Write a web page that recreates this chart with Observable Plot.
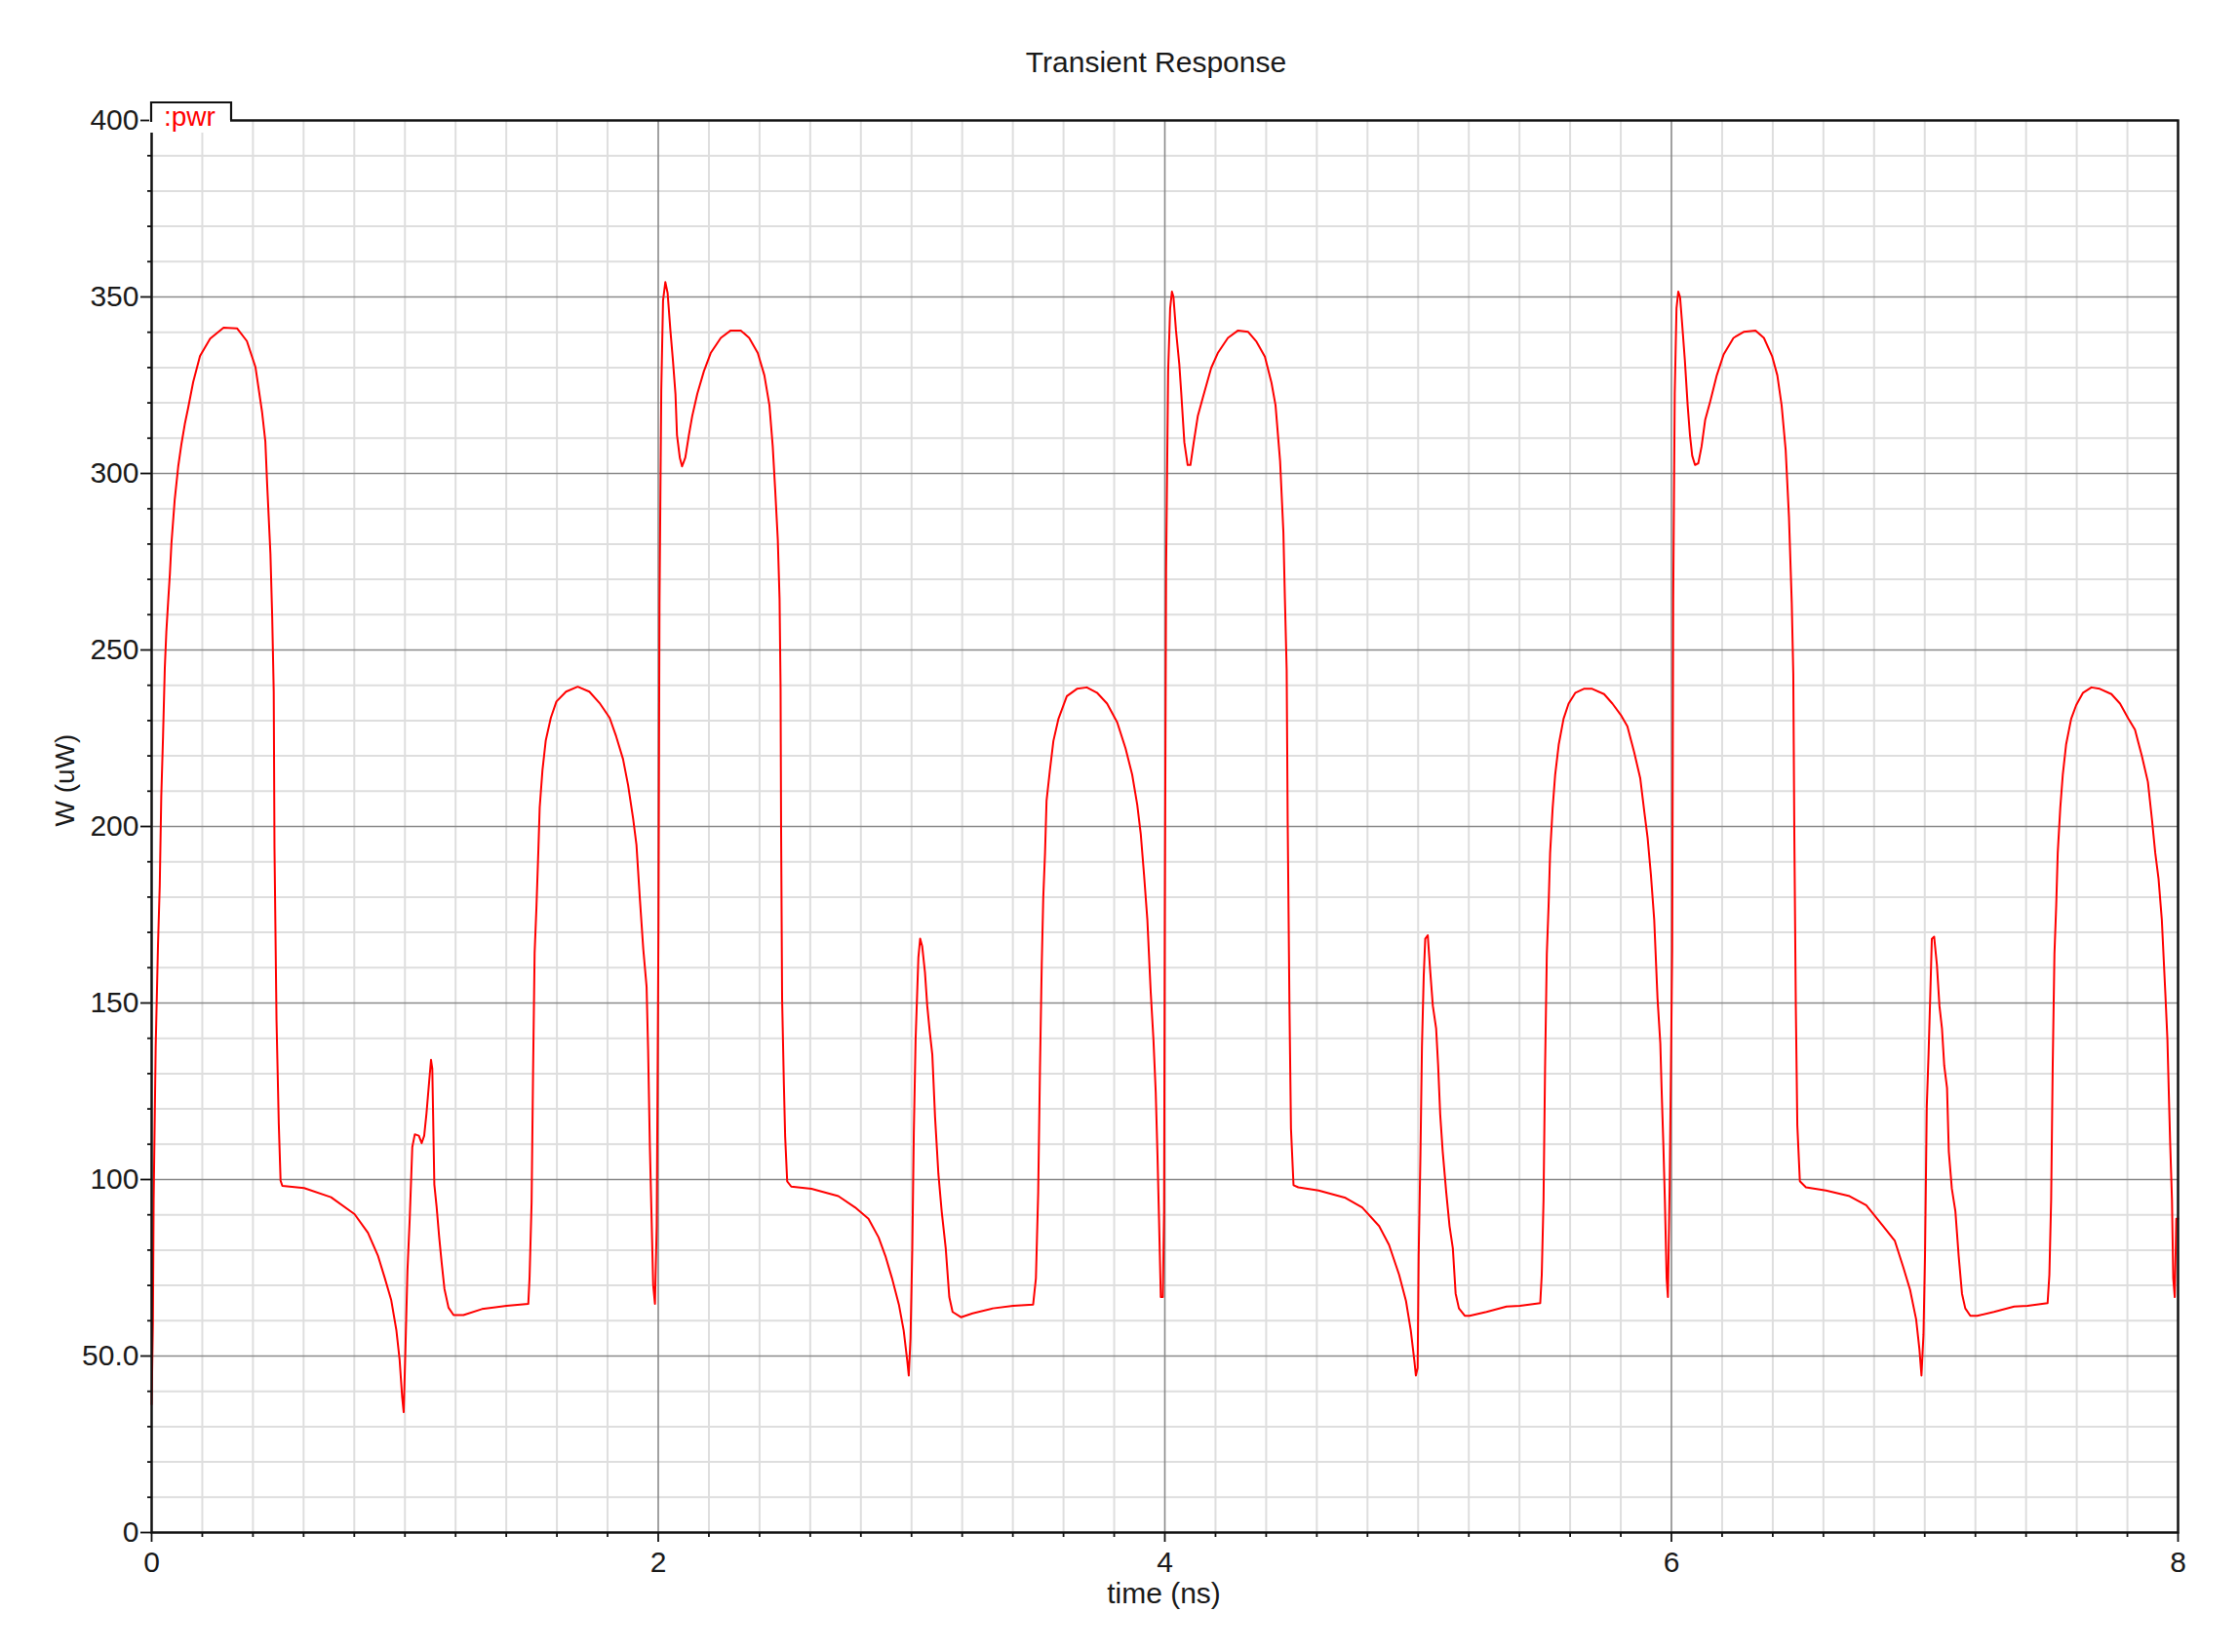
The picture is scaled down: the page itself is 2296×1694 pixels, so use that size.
<!DOCTYPE html>
<html>
<head>
<meta charset="utf-8">
<script src="https://cdn.jsdelivr.net/npm/d3@7"></script>
<script src="https://cdn.jsdelivr.net/npm/@observablehq/plot@0.6"></script>
<style>
  html, body { margin: 0; padding: 0; background: #ffffff; }
  svg { display: block; }
</style>
</head>
<body>
<div id="chart"></div>
<script>
// ---- Text ----
const chartTitle = "Transient Response";
const xLabel = "time (ns)";
const yLabel = "W (uW)";
const seriesName = ":pwr";

// ---- Axis ticks ----
const xMajorTicks = [0, 2, 4, 6, 8];
const xTickLabels = ["0", "2", "4", "6", "8"];
const yMajorTicks = [0, 50, 100, 150, 200, 250, 300, 350, 400];
const yTickLabels = ["0", "50.0", "100", "150", "200", "250", "300", "350", "400"];

// ---- Series values (time in ns, power in uW) ----
// 0 – 2 ns
const time1 = [0.000,0.005,0.008,0.016,0.025,0.032,0.038,0.045,0.052,0.058,0.065,0.072,0.078,0.091,0.105,0.118,0.131,0.144,0.164,0.191,0.231,0.284,0.337,0.376,0.410,0.436,0.449,0.456,0.469,0.476,0.482,0.485,0.493,0.502,0.509,0.516,0.602,0.708,0.801,0.854,0.893,0.920,0.946,0.966,0.979,0.989,0.995,1.002,1.010,1.019,1.029,1.039,1.055,1.066,1.076,1.085,1.095,1.103,1.108,1.116,1.125,1.135,1.145,1.156,1.172,1.192,1.231,1.304,1.401,1.487,1.492,1.500,1.506,1.512,1.519,1.527,1.532,1.543,1.556,1.576,1.598,1.636,1.682,1.728,1.768,1.808,1.834,1.861,1.881,1.901,1.914,1.927,1.941,1.954,1.960,1.967,1.973,1.980,1.987,1.994];
const pwr1  = [36.3,59.5,94.4,137.7,166.1,183.2,208.4,225.5,245.0,255.1,263.5,271.5,280.0,292.5,302.0,308.5,314.0,318.5,325.9,333.3,338.2,341.3,341.1,337.5,330.1,317.4,309.0,297.0,277.3,259.3,238.2,193.8,145.1,115.6,99.7,98.2,97.6,95.0,90.2,84.9,78.5,72.2,65.8,57.4,48.9,38.4,34.1,52.1,74.3,89.1,109.2,112.8,112.4,110.3,112.4,118.7,127.2,133.9,131.4,98.6,92.3,83.8,76.4,69.0,63.7,61.6,61.6,63.3,64.2,64.8,72.2,93.4,131.4,164.2,176.8,193.8,205.4,216.0,224.4,230.8,235.4,238.2,239.6,238.2,235.0,230.8,225.5,219.1,211.7,202.2,194.8,180.0,165.2,154.6,136.7,109.2,91.2,70.1,64.8,87.0];
// 2 – 4 ns
const time2 = [2.001,2.005,2.012,2.019,2.028,2.037,2.048,2.058,2.068,2.074,2.085,2.094,2.107,2.121,2.134,2.154,2.180,2.207,2.247,2.286,2.326,2.359,2.393,2.419,2.439,2.452,2.462,2.472,2.479,2.483,2.485,2.489,2.496,2.501,2.509,2.525,2.605,2.711,2.777,2.830,2.870,2.897,2.923,2.950,2.969,2.983,2.989,2.996,3.003,3.009,3.016,3.027,3.034,3.042,3.053,3.062,3.072,3.082,3.093,3.106,3.119,3.135,3.149,3.162,3.195,3.241,3.321,3.401,3.480,3.491,3.500,3.507,3.514,3.520,3.527,3.533,3.546,3.560,3.580,3.613,3.653,3.692,3.732,3.772,3.812,3.845,3.871,3.891,3.905,3.918,3.931,3.944,3.955,3.964,3.971,3.977,3.984,3.992,3.997];
const pwr2  = [172.4,263.3,323.6,349.0,354.2,351.1,340.5,332.0,322.5,310.9,304.5,302.0,304.5,310.9,316.2,322.5,328.9,334.1,338.4,340.5,340.5,338.4,334.1,327.8,319.3,307.7,295.0,281.3,264.4,239.0,199.9,151.3,127.0,112.2,99.5,98.0,97.4,95.3,92.1,88.9,83.6,78.3,72.0,64.6,57.2,48.7,44.5,55.1,80.5,113.2,139.6,162.9,168.2,166.1,158.7,149.2,141.8,135.4,117.5,101.6,91.0,80.5,66.7,62.5,61.0,62.1,63.5,64.2,64.6,72.0,96.3,131.2,160.8,179.8,192.5,207.3,215.8,224.2,230.5,236.9,239.0,239.4,237.9,234.8,229.5,222.1,214.7,206.2,197.8,186.2,173.5,153.4,139.6,124.8,106.8,88.9,66.7,66.7,91.0];
// 4 – 6 ns
const time3 = [4.000,4.005,4.013,4.021,4.028,4.034,4.044,4.057,4.065,4.077,4.090,4.101,4.114,4.130,4.150,4.183,4.209,4.249,4.289,4.329,4.362,4.395,4.421,4.437,4.455,4.468,4.474,4.481,4.485,4.492,4.498,4.508,4.527,4.607,4.713,4.779,4.846,4.885,4.925,4.952,4.971,4.985,4.991,4.998,5.002,5.009,5.015,5.022,5.028,5.038,5.047,5.058,5.071,5.079,5.087,5.097,5.111,5.124,5.137,5.148,5.161,5.184,5.203,5.270,5.349,5.402,5.482,5.488,5.495,5.501,5.508,5.515,5.521,5.531,5.541,5.555,5.574,5.594,5.621,5.654,5.687,5.734,5.767,5.800,5.826,5.853,5.877,5.893,5.906,5.919,5.932,5.945,5.956,5.961,5.968,5.974,5.981,5.986,5.993];
const pwr3  = [175.6,272.8,328.9,346.8,351.5,350.0,340.5,331.0,322.5,308.8,302.4,302.4,308.8,316.2,321.5,329.9,334.1,338.4,340.5,340.1,337.3,333.1,325.7,319.3,303.5,283.4,264.4,244.3,201.0,149.2,114.4,98.4,97.8,96.9,94.8,92.1,86.8,81.5,73.0,65.6,57.2,48.7,44.5,46.6,78.3,106.8,137.5,157.6,168.2,169.2,159.7,149.2,142.8,132.2,118.5,107.9,96.3,86.8,80.5,67.7,63.5,61.4,61.4,62.5,64.0,64.2,65.0,73.0,94.2,131.2,163.9,177.6,192.5,205.2,214.7,223.2,230.5,234.8,237.9,239.0,239.0,237.5,234.8,231.6,228.4,221.0,213.6,204.1,196.7,186.2,173.5,151.3,138.6,125.9,110.0,94.2,72.0,66.7,98.4];
// 6 – 8 ns
const time4 = [6.003,6.007,6.013,6.020,6.027,6.034,6.042,6.053,6.064,6.073,6.082,6.093,6.106,6.119,6.133,6.153,6.179,6.206,6.245,6.285,6.332,6.365,6.398,6.418,6.435,6.451,6.464,6.475,6.481,6.485,6.491,6.497,6.507,6.531,6.610,6.703,6.769,6.836,6.882,6.915,6.942,6.966,6.979,6.987,6.995,7.001,7.008,7.015,7.021,7.028,7.037,7.048,7.058,7.068,7.077,7.088,7.095,7.107,7.121,7.134,7.147,7.160,7.180,7.207,7.273,7.353,7.406,7.485,7.492,7.499,7.505,7.512,7.519,7.525,7.535,7.545,7.558,7.578,7.598,7.625,7.658,7.691,7.737,7.771,7.804,7.830,7.857,7.881,7.897,7.910,7.923,7.936,7.950,7.958,7.963,7.969,7.976,7.981,7.987,7.993,8.000];
const pwr4  = [165.0,264.4,322.5,346.8,351.5,350.0,342.6,332.0,319.3,310.9,305.0,302.4,302.9,307.7,315.1,320.4,327.8,333.7,338.4,340.1,340.5,338.4,333.1,327.8,319.3,306.6,287.6,263.3,243.3,198.9,149.2,115.3,99.5,97.8,96.9,95.3,92.7,86.8,82.6,75.2,68.8,60.4,51.9,44.5,56.1,78.3,120.6,135.4,150.2,168.2,168.8,160.8,149.2,142.8,132.2,125.9,107.9,97.4,91.0,78.3,67.7,63.5,61.4,61.4,62.5,64.0,64.2,65.0,73.0,94.2,131.2,163.9,177.6,192.5,205.2,214.7,223.2,230.5,234.4,237.9,239.4,239.0,237.5,234.8,230.5,227.4,220.0,212.6,202.0,192.5,185.2,173.5,152.4,139.6,125.9,110.0,94.2,72.0,66.7,88.9,88.9];

// ---- Build the table for the line mark ----
const segments = [[time1, pwr1], [time2, pwr2], [time3, pwr3], [time4, pwr4]];
const pwrTable = segments.flatMap(([ts, ws]) => ts.map((t, i) => ({time: t, pwr: ws[i]})));

const yLabelByValue = new Map(yMajorTicks.map((v, i) => [v, yTickLabels[i]]));
const xLabelByValue = new Map(xMajorTicks.map((v, i) => [v, xTickLabels[i]]));
const xMinorTicks = d3.range(0, 41).map(i => i / 5).filter(v => !xMajorTicks.includes(v));
const yMinorTicks = d3.range(0, 41).map(i => i * 10).filter(v => !yMajorTicks.includes(v));

const font = "'Liberation Sans', Arial, sans-serif";
const minorColor = "#dedede";
const majorColor = "#8a8a8a";

const chart = Plot.plot({
  width: 2296,
  height: 1694,
  marginTop: 123,
  marginLeft: 155,
  marginRight: 63,
  marginBottom: 123,
  style: {background: "#ffffff", fontFamily: font, fontSize: "30px", color: "#1a1a1a"},
  x: {domain: [0, 8]},
  y: {domain: [0, 400]},
  marks: [
    Plot.gridX(xMinorTicks, {stroke: minorColor, strokeOpacity: 1, strokeWidth: 2}),
    Plot.gridY(yMinorTicks, {stroke: minorColor, strokeOpacity: 1, strokeWidth: 2}),
    Plot.gridX(xMajorTicks, {stroke: majorColor, strokeOpacity: 1, strokeWidth: 1.6}),
    Plot.gridY(yMajorTicks, {stroke: majorColor, strokeOpacity: 1, strokeWidth: 1.6}),
    Plot.line(pwrTable, {x: "time", y: "pwr", stroke: "#ff0000", strokeWidth: 2, curve: "linear"}),
    Plot.frame({stroke: "#111111", strokeWidth: 2.4}),
    Plot.axisY(yMajorTicks, {tickSize: 11, tickPadding: 2, tickFormat: d => yLabelByValue.get(d), label: null, fontSize: 30, stroke: "#111111", strokeWidth: 1.8}),
    Plot.axisY(yMinorTicks, {tickSize: 4, tickFormat: () => "", label: null, stroke: "#111111", strokeWidth: 1.8}),
    Plot.axisX(xMajorTicks, {tickSize: 10, tickPadding: 9, tickFormat: d => xLabelByValue.get(d), label: null, fontSize: 30, stroke: "#111111", strokeWidth: 1.8}),
    Plot.axisX(xMinorTicks, {tickSize: 5, tickFormat: () => "", label: null, stroke: "#111111", strokeWidth: 1.8}),
    Plot.text([chartTitle], {frameAnchor: "top", dy: -59, dx: -9, lineAnchor: "middle", fontSize: 30, fill: "#1a1a1a"}),
    Plot.text([xLabel], {frameAnchor: "bottom", dy: 63, dx: -1, lineAnchor: "middle", fontSize: 30, fill: "#1a1a1a"}),
    Plot.text([yLabel], {frameAnchor: "left", dx: -88, rotate: -90, lineAnchor: "middle", fontSize: 28, fill: "#1a1a1a"})
  ]
});

document.getElementById("chart").appendChild(chart);

// ---- Legend tab (":pwr") on the top-left of the frame ----
const xScaleInfo = chart.scale("x"), yScaleInfo = chart.scale("y");
const frameLeft = Math.min(...xScaleInfo.range);
const frameTop = Math.min(...yScaleInfo.range);
const tabW = 82, tabH = 18;
const svgSel = d3.select(chart);
svgSel.append("rect")
  .attr("x", frameLeft - 2).attr("y", frameTop - tabH + 1)
  .attr("width", tabW + 1).attr("height", tabH + 12)
  .attr("fill", "#ffffff");
svgSel.append("path")
  .attr("d", `M${frameLeft},${frameTop + 2} V${frameTop - tabH} H${frameLeft + tabW} V${frameTop}`)
  .attr("fill", "none").attr("stroke", "#111111").attr("stroke-width", 2.2);
svgSel.append("text")
  .attr("x", frameLeft + 13).attr("y", frameTop + 6)
  .attr("text-anchor", "start")
  .attr("fill", "#ff0000")
  .attr("font-family", font).attr("font-size", 28)
  .text(seriesName);
</script>
</body>
</html>
